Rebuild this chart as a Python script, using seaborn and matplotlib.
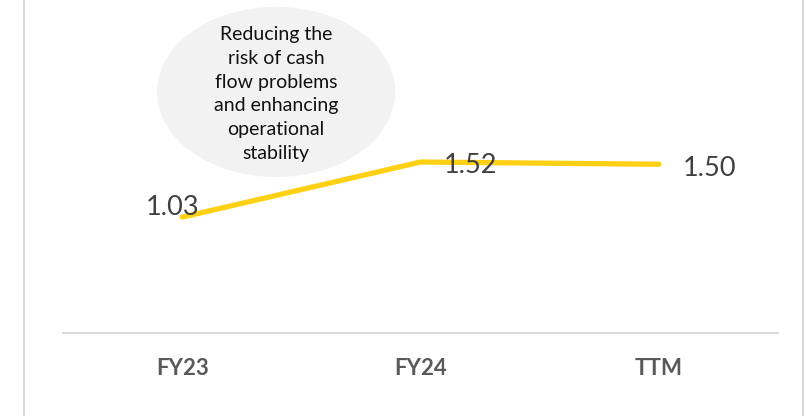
import matplotlib.pyplot as plt
import pandas as pd
import seaborn as sns
from matplotlib.lines import Line2D
from matplotlib.patches import Ellipse

# data
periods = ["FY23", "FY24", "TTM"]
ratio = [1.03, 1.52, 1.50]
value_labels = ["1.03", "1.52", "1.50"]
note = "Reducing the\nrisk of cash\nflow problems\nand enhancing\noperational\nstability"

# label offsets in pixels (dx, dy) from each point, baseline anchored
label_offsets = [(-10, 2), (50, -11), (51, -12)]

sns.set_style("white")
plt.rcParams["font.family"] = ["Lato", "DejaVu Sans"]

df = pd.DataFrame({"period": periods, "ratio": ratio})

W, H = 810, 416
fig = plt.figure(figsize=(W / 100, H / 100), dpi=100)
ax = fig.add_axes([63 / W, 83 / H, 715 / W, 333 / H])

sns.lineplot(
    data=df,
    x="period",
    y="ratio",
    sort=False,
    color="#FFD013",
    linewidth=3.8,
    solid_capstyle="round",
    ax=ax,
)

ax.set_xlim(-0.5, 2.5)
ax.set_ylim(0, 2.96)
ax.set_xlabel("")
ax.set_ylabel("")
ax.set_yticks([])

for side in ["left", "right", "top"]:
    ax.spines[side].set_visible(False)
ax.spines["bottom"].set_color("#D9D9D9")
ax.spines["bottom"].set_linewidth(1.5)

ax.tick_params(axis="x", length=0, pad=18, labelsize=16, labelcolor="#595959")
for t in ax.get_xticklabels():
    t.set_fontweight("bold")

# value labels
for i, (txt, (dx, dy)) in enumerate(zip(value_labels, label_offsets)):
    ax.annotate(
        txt,
        xy=(i, ratio[i]),
        xytext=(dx, dy),
        textcoords="offset pixels",
        ha="center",
        va="baseline",
        fontsize=19.5,
        color="#404040",
    )

# callout bubble
ax.add_patch(
    Ellipse(
        (0.298, 0.724),
        0.333,
        0.511,
        transform=ax.transAxes,
        facecolor="#F2F2F2",
        edgecolor="none",
        zorder=0,
    )
)
ax.text(
    0.298,
    0.718,
    note,
    transform=ax.transAxes,
    ha="center",
    va="center",
    fontsize=14,
    linespacing=1.48,
    color="#111111",
)

# chart area border (left and right edges)
for xp in [24, 803]:
    fig.add_artist(
        Line2D([xp / W, xp / W], [0, 1], transform=fig.transFigure,
               color="#D9D9D9", linewidth=1.5)
    )

fig.savefig("out.png", dpi=100)
